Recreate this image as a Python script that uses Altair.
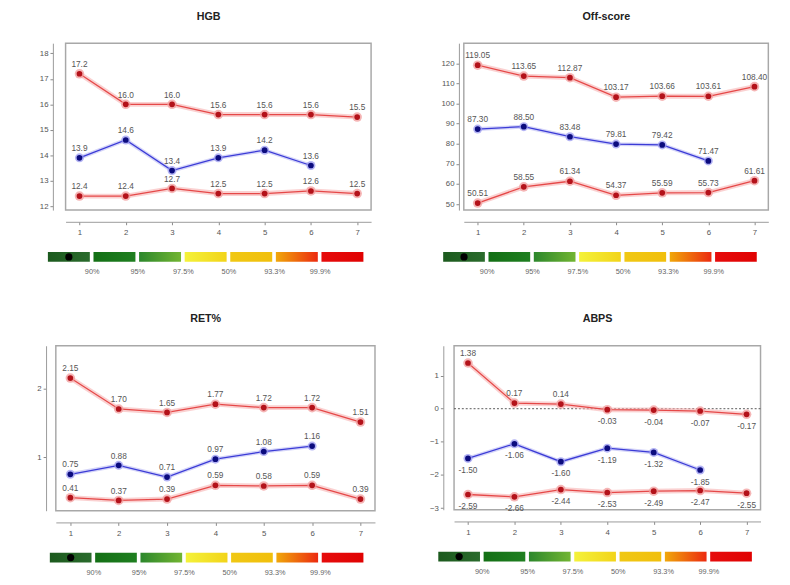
import json
import altair as alt
import pandas as pd

FONT = "Liberation Sans"

x_points = [1, 2, 3, 4, 5, 6, 7]

hgb_upper = [17.2, 16.0, 16.0, 15.6, 15.6, 15.6, 15.5]
hgb_patient = [13.9, 14.6, 13.4, 13.9, 14.2, 13.6]
hgb_lower = [12.4, 12.4, 12.7, 12.5, 12.5, 12.6, 12.5]

off_upper = [119.05, 113.65, 112.87, 103.17, 103.66, 103.61, 108.40]
off_patient = [87.30, 88.50, 83.48, 79.81, 79.42, 71.47]
off_lower = [50.51, 58.55, 61.34, 54.37, 55.59, 55.73, 61.61]

ret_upper = [2.15, 1.70, 1.65, 1.77, 1.72, 1.72, 1.51]
ret_patient = [0.75, 0.88, 0.71, 0.97, 1.08, 1.16]
ret_lower = [0.41, 0.37, 0.39, 0.59, 0.58, 0.59, 0.39]

abps_upper = [1.38, 0.17, 0.14, -0.03, -0.04, -0.07, -0.17]
abps_patient = [-1.50, -1.06, -1.60, -1.19, -1.32, -1.85]
abps_lower = [-2.59, -2.66, -2.44, -2.53, -2.49, -2.47, -2.55]
abps_ref = [0]

segments = [0, 1, 2, 3, 4, 5, 6]
seg_colors = [
    ("#1c5a1e", "#2a6b2c"),
    ("#136f15", "#1f7f20"),
    ("#2c872c", "#72b532"),
    ("#f4f23a", "#f2d41a"),
    ("#f0c814", "#f1bf0c"),
    ("#f0a80a", "#ec2a10"),
    ("#e60c0c", "#e00202"),
]
pct_labels = ["90%", "95%", "97.5%", "50%", "93.3%", "99.9%"]


def panel_df(upper, patient, lower, fmt, below_negative):
    rows = []
    for s, vals in (("upper", upper), ("patient", patient), ("lower", lower)):
        for x, v in zip(x_points, vals):
            rows.append(dict(x=x, value=v, series=s, label=format(v, fmt),
                             below=bool(below_negative and v < 0)))
    return pd.DataFrame(rows)


def line_panel(title, df, ydomain, yticks, yoffset, yext, width, height, ref=None):
    axis_style = dict(grid=False, title=None, labelFontSize=8, labelColor="#555",
                      tickColor="#888", domainColor="#999", tickSize=3, labelFont=FONT)
    base = alt.Chart(df).encode(
        x=alt.X("x:Q", scale=alt.Scale(domain=[0.7, 7.3], nice=False, zero=False),
                axis=alt.Axis(values=x_points, format="d", offset=12, labelPadding=4,
                              **axis_style)),
        y=alt.Y("value:Q", scale=alt.Scale(domain=ydomain, nice=False, zero=False),
                axis=alt.Axis(values=yticks, offset=yoffset, minExtent=yext, **axis_style)),
        detail="series:N",
    )
    red = base.transform_filter("datum.series != 'patient'")
    blue = base.transform_filter("datum.series == 'patient'")
    layers = []
    if ref is not None:
        layers.append(alt.Chart(pd.DataFrame({"value": ref})).mark_rule(
            color="#555", strokeDash=[2, 2], strokeWidth=1).encode(y="value:Q"))
    layers += [
        red.mark_line(color="#f6b2b2", strokeWidth=5, opacity=0.6),
        blue.mark_line(color="#b8b8f4", strokeWidth=4, opacity=0.6),
        red.mark_line(color="#e54848", strokeWidth=1.3),
        blue.mark_line(color="#3b3bd6", strokeWidth=1.3),
        red.mark_circle(color="#f29c9c", size=95, opacity=0.75),
        blue.mark_circle(color="#9a9af0", size=85, opacity=0.75),
        red.mark_circle(color="#b3121a", size=34, opacity=1),
        blue.mark_circle(color="#0c0c7e", size=34, opacity=1),
        base.transform_filter("!datum.below").mark_text(
            dy=-10, fontSize=8.5, color="#555", font=FONT).encode(text="label:N"),
        base.transform_filter("datum.below").mark_text(
            dy=12, fontSize=8.5, color="#555", font=FONT).encode(text="label:N"),
    ]
    return alt.layer(*layers).properties(
        width=width, height=height,
        title=alt.TitleParams(text=title, fontSize=11, fontWeight="bold", font=FONT,
                              color="#222", offset=22, anchor="middle", dx=-10),
        view=alt.ViewBackground(stroke="#a8a8a8", strokeWidth=1.5),
    )


def legend_panel(width, prange):
    ldf = pd.DataFrame({"seg": segments, "row": ["a"] * len(segments)})
    label_js = json.dumps(pct_labels)
    base = alt.Chart(ldf).transform_calculate(
        x0="datum.seg + 0.04", x1="datum.seg + 0.96", xc="datum.seg + 0.5"
    ).encode(
        y=alt.Y("row:N", scale=alt.Scale(paddingInner=0, paddingOuter=0), axis=None)
    )
    xaxis = alt.Axis(values=[1, 2, 3, 4, 5, 6], labelExpr=f"{label_js}[datum.value - 1]",
                     domain=False, ticks=False, grid=False, title=None, labelFontSize=7.5,
                     labelColor="#666", labelPadding=6, labelFont=FONT)
    layers = []
    for i in segments:
        c0, c1 = seg_colors[i]
        grad = alt.Gradient(gradient="linear",
                            stops=[alt.GradientStop(color=c0, offset=0),
                                   alt.GradientStop(color=c1, offset=1)],
                            x1=0, x2=1, y1=0, y2=0)
        layers.append(base.transform_filter(f"datum.seg == {i}").mark_rect(fill=grad).encode(
            x=alt.X("x0:Q", scale=alt.Scale(domain=[0, 7], nice=False, zero=False,
                                             range=prange), axis=xaxis),
            x2="x1:Q"))
    dot = base.transform_filter("datum.seg == 0").mark_circle(
        color="black", size=55, opacity=1).encode(x="xc:Q")
    return alt.layer(*layers, dot).properties(
        width=width, height=10, view=alt.ViewBackground(stroke="transparent"))


def spacer():
    return alt.Chart(pd.DataFrame({"v": [0]})).mark_point(opacity=0).encode(
        x=alt.X("v:Q", axis=None), y=alt.Y("v:Q", axis=None)
    ).properties(width=1, height=1)


hgb = alt.vconcat(
    line_panel("HGB", panel_df(hgb_upper, hgb_patient, hgb_lower, ".1f", False),
               [11.85, 18.4], [12, 13, 14, 15, 16, 17, 18], 13, 22, 313, 171),
    legend_panel(313, [-20, 307]), spacing=14)
off = alt.vconcat(
    line_panel("Off-score", panel_df(off_upper, off_patient, off_lower, ".2f", False),
               [47, 130], [50, 60, 70, 80, 90, 100, 110, 120], 5, 38, 312, 171),
    legend_panel(312, [-23, 302]), spacing=14)
ret = alt.vconcat(
    line_panel("RET%", panel_df(ret_upper, ret_patient, ret_lower, ".2f", False),
               [0.22, 2.62], [1, 2], 10, 15, 327, 169),
    legend_panel(327, [-8, 317]), spacing=14)
abps = alt.vconcat(
    line_panel("ABPS", panel_df(abps_upper, abps_patient, abps_lower, ".2f", True),
               [-3.05, 1.9], [-3, -2, -1, 0, 1], 11, 17, 314, 168, ref=abps_ref),
    legend_panel(314, [-18, 307]), spacing=14)

row1 = alt.hconcat(spacer(), alt.hconcat(hgb, off, spacing=36), spacing=0)
row2 = alt.hconcat(spacer(), alt.hconcat(ret, abps, spacing=51), spacing=0)

chart = alt.concat(row1, row2, columns=1, spacing=38, align="none").properties(
    padding={"left": 16, "top": -5, "right": 0, "bottom": 0},
    background="white",
).configure_view(stroke="transparent")

chart.save("out.html", embed_options={"renderer": "svg", "actions": False})
